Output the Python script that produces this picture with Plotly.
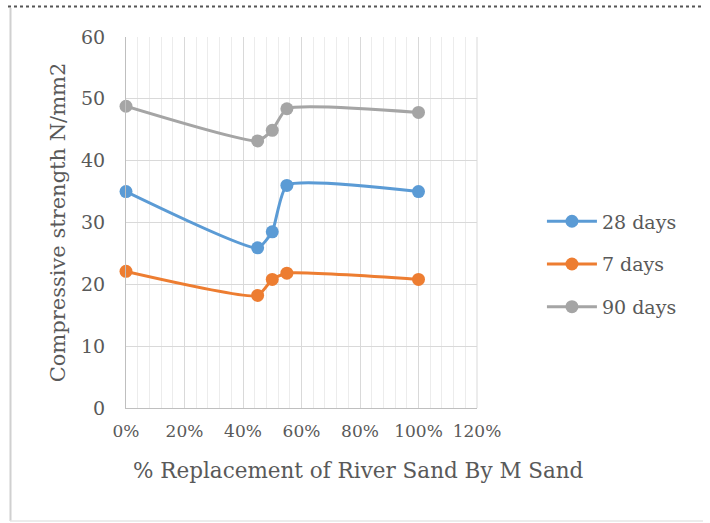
import plotly.graph_objects as go

# Replacement levels of river sand by M sand (fraction)
replacement = [0.0, 0.45, 0.50, 0.55, 1.00]

# Compressive strength (N/mm2) at each curing age
strength_28 = [35.0, 25.9, 28.5, 36.0, 35.0]
strength_7 = [22.1, 18.2, 20.8, 21.8, 20.8]
strength_90 = [48.8, 43.2, 44.9, 48.4, 47.8]

series_names = ["28 days", "7 days", "90 days"]
series_colors = ["#5B9BD5", "#ED7D31", "#A5A5A5"]
series_values = [strength_28, strength_7, strength_90]

FONT = "DejaVu Serif"
TEXT = "#595959"

fig = go.Figure()
for name, color, vals in zip(series_names, series_colors, series_values):
    fig.add_trace(go.Scatter(
        x=replacement, y=vals, name=name, legendgroup=name,
        mode="lines+markers",
        line=dict(color=color, width=3, shape="spline", smoothing=0.5),
        marker=dict(color=color, size=13),
        cliponaxis=False,
    ))

W, H = 710, 523
L, R, T, B = 126, 233, 37, 115
pw, ph = W - L - R, H - T - B


def px(x):
    return (x - L) / pw


def py(y):
    return (H - B - y) / ph


fig.update_layout(
    width=W, height=H,
    margin=dict(l=L, r=R, t=T, b=B),
    paper_bgcolor="white", plot_bgcolor="white",
    font=dict(family=FONT, color=TEXT, size=18),
    showlegend=True,
    legend=dict(x=1.185, y=0.387, xanchor="left", yanchor="middle",
                font=dict(family=FONT, size=19, color=TEXT), tracegroupgap=15,
                itemwidth=50, bgcolor="rgba(0,0,0,0)"),
    xaxis=dict(
        range=[0, 1.2], dtick=0.2, tickformat=".0%",
        showgrid=True, gridcolor="#d9d9d9", gridwidth=1,
        minor=dict(dtick=0.04, showgrid=True, gridcolor="#ececec", gridwidth=1),
        showline=True, linecolor="#bfbfbf", linewidth=1,
        zeroline=False, ticks="", ticklabelstandoff=8,
        tickfont=dict(family=FONT, size=17, color=TEXT),
    ),
    yaxis=dict(
        range=[0, 60], dtick=10,
        showgrid=True, gridcolor="#d9d9d9", gridwidth=1,
        showline=True, linecolor="#bfbfbf", linewidth=1,
        zeroline=False, ticks="", ticklabelstandoff=16,
        tickfont=dict(family=FONT, size=19, color=TEXT),
        title=dict(text="Compressive strength N/mm2",
                   font=dict(family=FONT, size=21, color=TEXT), standoff=9),
    ),
    annotations=[
        # x-axis title, centred on the whole chart area
        dict(text="% Replacement of River Sand By M Sand",
             xref="paper", yref="paper", x=px(358), y=py(470),
             xanchor="center", yanchor="middle", showarrow=False,
             font=dict(family=FONT, size=21.5, color=TEXT)),
    ],
    shapes=[
        # dotted frame edge along the top
        dict(type="line", xref="paper", yref="paper",
             x0=px(8), x1=px(703), y0=py(6.5), y1=py(6.5),
             line=dict(color="#555555", width=2, dash="dot")),
        # chart area border, left and bottom
        dict(type="line", xref="paper", yref="paper",
             x0=px(10.5), x1=px(10.5), y0=py(8), y1=py(521),
             line=dict(color="#d0d0d0", width=2)),
        dict(type="line", xref="paper", yref="paper",
             x0=px(10), x1=px(703), y0=py(521), y1=py(521),
             line=dict(color="#e6e6e6", width=1.5)),
        # right edge of the plot grid
        dict(type="line", xref="paper", yref="paper",
             x0=1, x1=1, y0=0, y1=1, line=dict(color="#d9d9d9", width=1)),
    ],
)

fig.write_html("out.html")
